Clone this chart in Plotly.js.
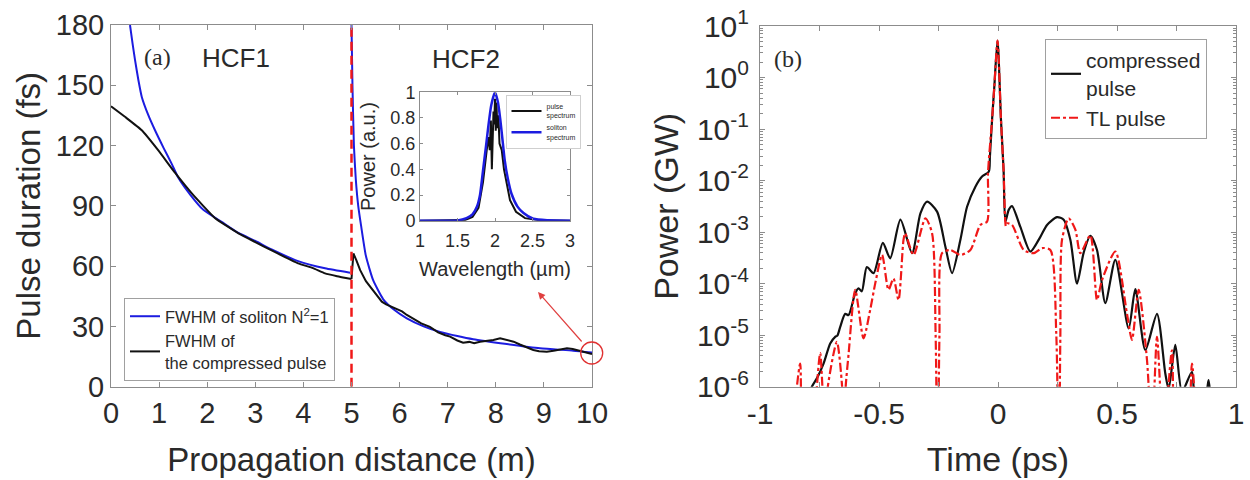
<!DOCTYPE html>
<html>
<head>
<meta charset="utf-8">
<script src="https://cdn.plot.ly/plotly-3.0.1.min.js"></script>
<style>html,body{margin:0;padding:0;background:#fff;}#chart{width:1250px;height:480px;}</style>
</head>
<body>
<div id="chart"></div>
<script>
// ---------- Panel (a): pulse duration vs propagation distance ----------
const zSol1 = [0.395, 0.45, 0.5, 0.57, 0.64, 0.776, 0.915, 1.1, 1.26, 1.4, 1.65, 1.92, 2.3, 2.65, 3.0, 3.34, 3.89, 4.45, 4.97];
const fwhmSol1 = [180, 170.5, 162.5, 152.5, 144.2, 135.1, 127.6, 118.5, 111, 104, 95.5, 88, 82, 76.5, 72.5, 68.3, 62.5, 58.9, 56.7];
const zSol2 = [5.0, 5.02, 5.05, 5.09, 5.14, 5.2, 5.3, 5.45, 5.66, 5.9, 6.15, 6.5, 6.84, 7.2, 7.53, 8.23, 8.92, 9.61, 10.0];
const fwhmSol2 = [180, 150, 120, 103, 90, 80, 65, 53, 43.5, 38, 34, 30, 27.3, 25.2, 23.6, 21.2, 19.1, 17.9, 17.0];
const zCmp1 = [0, 0.29, 0.64, 0.98, 1.33, 1.68, 2.16, 2.65, 3.0, 3.34, 3.89, 4.2, 4.45, 4.7, 5.0];
const fwhmCmp1 = [139.6, 134.3, 127.6, 117.7, 106.5, 96.2, 84, 76.3, 72, 67.8, 61.4, 59, 56.4, 55, 53.6];
const zCmp2 = [5.0, 5.04, 5.1, 5.18, 5.3, 5.45, 5.55, 5.63, 5.72, 5.8, 5.95, 6.05, 6.15, 6.3, 6.45, 6.63, 6.8, 6.95, 7.05, 7.2, 7.32, 7.45, 7.55, 7.67, 7.8, 7.95, 8.09, 8.2, 8.37, 8.5, 8.65, 8.78, 8.9, 9.06, 9.2, 9.35, 9.48, 9.6, 9.75, 9.85, 10.0];
const fwhmCmp2 = [53.6, 66.3, 63, 58, 52.5, 48, 44.5, 42.3, 41.0, 40.1, 38.5, 37.5, 35.7, 33.5, 31.5, 29.8, 27, 25.6, 24.9, 23, 21.9, 22.3, 21.6, 22.4, 22.7, 23.2, 24.1, 23.5, 22.4, 21, 19.5, 18.3, 17.6, 17.4, 17.9, 18.6, 19.1, 18.8, 17.9, 17.5, 16.3];
const fiberBoundary = [5, 5];
const boundaryRange = [0, 180];

// ---------- Inset: spectra ----------
const lamSol = [1.0, 1.5, 1.62, 1.7, 1.76, 1.8, 1.84, 1.88, 1.91, 1.95, 2.0, 2.04, 2.07, 2.1, 2.13, 2.17, 2.22, 2.3, 2.38, 2.51, 2.7, 3.0];
const specSol = [0, 0.002, 0.02, 0.05, 0.11, 0.2, 0.39, 0.58, 0.73, 0.9, 1.0, 0.92, 0.79, 0.63, 0.47, 0.33, 0.21, 0.11, 0.06, 0.015, 0.003, 0];
const lamPulse = [1.0, 1.6, 1.7, 1.78, 1.84, 1.88, 1.91, 1.93, 1.945, 1.958, 1.97, 1.98, 1.99, 2.0, 2.01, 2.02, 2.03, 2.045, 2.06, 2.09, 2.12, 2.16, 2.2, 2.28, 2.4, 2.6, 3.0];
const specPulse = [0, 0.005, 0.03, 0.1, 0.3, 0.5, 0.65, 0.55, 0.78, 0.4, 0.7, 0.85, 0.75, 0.95, 0.7, 0.92, 0.72, 0.82, 0.6, 0.55, 0.4, 0.27, 0.16, 0.07, 0.02, 0.003, 0];

// ---------- Panel (b): temporal power ----------
const tCmp = [-0.80, -0.782, -0.761, -0.733, -0.705, -0.684, -0.675, -0.663, -0.642, -0.628, -0.6, -0.586, -0.572, -0.551, -0.523, -0.484, -0.453, -0.41, -0.361, -0.326, -0.298, -0.256, -0.221, -0.193, -0.158, -0.13, -0.095, -0.067, -0.039, -0.034, -0.025, -0.0155, -0.002, 0.0125, 0.0235, 0.031, 0.045, 0.059, 0.094, 0.136, 0.178, 0.206, 0.248, 0.276, 0.304, 0.332, 0.36, 0.388, 0.416, 0.451, 0.493, 0.549, 0.577, 0.619, 0.668, 0.703, 0.717, 0.745, 0.773, 0.815, 0.83, 0.875, 0.885, 0.895];
const pCmp = [5e-7, 1.0e-6, 1.45e-6, 2.8e-6, 6.9e-6, 9.3e-6, 9.8e-6, 1.45e-5, 2.6e-5, 2.45e-5, 6.5e-5, 8.1e-5, 7.1e-5, 2.1e-4, 1.6e-4, 6.2e-4, 3.1e-4, 1.74e-3, 3.9e-4, 2.3e-3, 3.9e-3, 2.5e-3, 5.2e-4, 1.6e-4, 7.1e-4, 3.1e-3, 7.6e-3, 1.2e-2, 1.48e-2, 2.9e-2, 0.15, 0.66, 5.2, 0.15, 1.6e-2, 1.6e-3, 2.7e-3, 3.2e-3, 1.26e-3, 4.2e-4, 8.1e-4, 1.38e-3, 1.95e-3, 1.74e-3, 7.1e-4, 1.0e-4, 4.0e-4, 8.5e-4, 4.5e-4, 4.2e-5, 2.9e-4, 1.35e-5, 7.8e-5, 5.1e-6, 2.6e-5, 1.8e-6, 9e-7, 6.5e-6, 8e-7, 1.95e-6, 5e-7, 8e-7, 1.35e-6, 5e-7];
const tTL = [-0.86, -0.845, -0.831, -0.812, -0.77, -0.761, -0.747, -0.726, -0.715, -0.677, -0.655, -0.649, -0.64, -0.628, -0.6, -0.565, -0.537, -0.516, -0.487, -0.46, -0.439, -0.418, -0.397, -0.39, -0.355, -0.305, -0.277, -0.262, -0.254, -0.246, -0.235, -0.2, -0.158, -0.116, -0.074, -0.046, -0.042, -0.025, -0.0155, -0.002, 0.0125, 0.0235, 0.033, 0.038, 0.059, 0.108, 0.15, 0.185, 0.22, 0.245, 0.255, 0.262, 0.269, 0.297, 0.325, 0.346, 0.388, 0.416, 0.437, 0.493, 0.542, 0.563, 0.591, 0.626, 0.647, 0.668, 0.696, 0.731, 0.752, 0.79, 0.815, 0.835];
const pTL = [1e-7, 1e-6, 2.8e-6, 1e-7, 1e-7, 1e-6, 4.5e-6, 1e-7, 1e-6, 7.4e-6, 1e-6, 1e-7, 1e-6, 4.2e-6, 7.6e-5, 8.7e-6, 3.1e-5, 1.0e-4, 3.6e-4, 7.6e-5, 1.26e-4, 4.8e-5, 7.1e-4, 9.5e-4, 3.6e-4, 1.86e-3, 9.5e-4, 1e-5, 1e-8, 1e-5, 3.9e-4, 4.5e-4, 3.6e-4, 4.5e-4, 1.38e-3, 1.6e-3, 1.4e-2, 0.15, 0.66, 5.2, 0.15, 1.6e-2, 1.3e-3, 1.48e-3, 1.38e-3, 4.5e-4, 3.9e-4, 4.9e-4, 4.5e-4, 1e-5, 1e-8, 1e-5, 7.1e-4, 1.86e-3, 1.12e-3, 3.9e-4, 8.7e-4, 4.8e-5, 1.17e-4, 4.2e-4, 2.6e-5, 8.1e-6, 7.6e-5, 3.3e-6, 1e-7, 9.3e-6, 1e-7, 5.1e-6, 1e-7, 1e-7, 2.8e-6, 1e-7];

// tick labels
const xTickVals_b = [-1, -0.75, -0.5, -0.25, 0, 0.25, 0.5, 0.75, 1];
const xTickText_b = ['-1', '', '-0.5', '', '0', '', '0.5', '', '1'];
const yTickVals_b = [1e-6, 1e-5, 1e-4, 1e-3, 1e-2, 1e-1, 1, 10];
const yTickText_b = ['10<sup>-6</sup>', '10<sup>-5</sup>', '10<sup>-4</sup>', '10<sup>-3</sup>', '10<sup>-2</sup>', '10<sup>-1</sup>', '10<sup>0</sup>', '10<sup>1</sup>'];

const BLUE = '#1c1ce0', BLACK = '#111111', RED = '#f01818', AX = '#8c8c8c', TXT = '#2a2a2a';
const FONT = 'Liberation Sans, Arial, sans-serif';
const SERIF = 'Liberation Serif, Times New Roman, serif';
const W = 1250, H = 480;
const px = v => v / W, py = v => 1 - v / H;

// minor log ticks (styling only)
const minorLog = [];
for (let e = -6; e < 1; e++) for (let m = 2; m <= 9; m++) minorLog.push(m * Math.pow(10, e));

const traces = [
  {x: zSol1, y: fwhmSol1, xaxis: 'x', yaxis: 'y', mode: 'lines', line: {color: BLUE, width: 2, shape: 'spline', smoothing: 0.5},
   name: 'FWHM of soliton N<sup>2</sup>=1', legendgroup: 'sol', legend: 'legend'},
  {x: zSol2, y: fwhmSol2, xaxis: 'x', yaxis: 'y', mode: 'lines', line: {color: BLUE, width: 2, shape: 'spline', smoothing: 0.5},
   showlegend: false, legendgroup: 'sol'},
  {x: zCmp1, y: fwhmCmp1, xaxis: 'x', yaxis: 'y', mode: 'lines', line: {color: BLACK, width: 2, shape: 'spline', smoothing: 0.4},
   name: 'FWHM of<br>the compressed pulse', legendgroup: 'cmp', legend: 'legend'},
  {x: zCmp2, y: fwhmCmp2, xaxis: 'x', yaxis: 'y', mode: 'lines', line: {color: BLACK, width: 2},
   showlegend: false, legendgroup: 'cmp'},
  {x: fiberBoundary, y: boundaryRange, xaxis: 'x', yaxis: 'y', mode: 'lines',
   line: {color: RED, width: 2.5, dash: '9px,5px'}, showlegend: false},
  // inset
  {x: lamPulse, y: specPulse, xaxis: 'x2', yaxis: 'y2', mode: 'lines', line: {color: BLACK, width: 2},
   name: 'pulse<br>spectrum', legend: 'legend2'},
  {x: lamSol, y: specSol, xaxis: 'x2', yaxis: 'y2', mode: 'lines', line: {color: BLUE, width: 2.5, shape: 'spline', smoothing: 0.6},
   name: 'soliton<br>spectrum', legend: 'legend2'},
  // panel b
  {x: tCmp, y: pCmp, xaxis: 'x3', yaxis: 'y3', mode: 'lines', line: {color: BLACK, width: 2.2, shape: 'spline', smoothing: 0.7},
   name: 'compressed<br>pulse', legend: 'legend3'},
  {x: tTL, y: pTL, xaxis: 'x3', yaxis: 'y3', mode: 'lines', line: {color: RED, width: 2.2, dash: 'dashdot', shape: 'spline', smoothing: 0.7},
   name: 'TL pulse', legend: 'legend3'}
];

const axBase = {showline: true, mirror: 'ticks', linecolor: AX, linewidth: 1, ticks: 'inside', tickcolor: AX,
  ticklen: 5, showgrid: false, zeroline: false, tickfont: {family: FONT, color: TXT}};

const legBase = {bgcolor: '#ffffff', bordercolor: '#a0a0a0', borderwidth: 1, xanchor: 'left', yanchor: 'top',
  font: {family: FONT, color: TXT}, tracegroupgap: 0};

const txt = (x, y, text, family, size) => ({xref: 'paper', yref: 'paper', x: px(x), y: py(y), text: text,
  showarrow: false, xanchor: 'center', yanchor: 'middle', font: {family: family, size: size, color: TXT}});

const layout = {
  width: W, height: H, margin: {l: 0, r: 0, t: 0, b: 0}, paper_bgcolor: '#fff', plot_bgcolor: '#fff',
  font: {family: FONT, color: TXT},
  xaxis: Object.assign({}, axBase, {domain: [px(111), px(592)], range: [0, 10], dtick: 1, anchor: 'y',
    tickfont: {family: FONT, color: TXT, size: 29},
    title: {text: 'Propagation distance (m)', font: {family: FONT, size: 33, color: TXT}, standoff: 20}}),
  yaxis: Object.assign({}, axBase, {domain: [py(386.7), py(25)], range: [0, 180], dtick: 30, anchor: 'x',
    tickfont: {family: FONT, color: TXT, size: 29},
    title: {text: 'Pulse duration (fs)', font: {family: FONT, size: 33, color: TXT}, standoff: 5}}),
  xaxis2: Object.assign({}, axBase, {domain: [px(420), px(570)], range: [1, 3], dtick: 0.5, anchor: 'y2',
    ticklen: 3, ticklabelstandoff: 4, tickfont: {family: FONT, color: TXT, size: 18},
    title: {text: 'Wavelength (\u00b5m)', font: {family: FONT, size: 20, color: TXT}, standoff: 11}}),
  yaxis2: Object.assign({}, axBase, {domain: [py(220.7), py(92.3)], range: [0, 1], dtick: 0.2, anchor: 'x2',
    ticklen: 3, tickfont: {family: FONT, color: TXT, size: 18},
    title: {text: 'Power (a.u.)', font: {family: FONT, size: 20, color: TXT}, standoff: 9}}),
  xaxis3: Object.assign({}, axBase, {domain: [px(760), px(1236)], range: [-1, 1], anchor: 'y3',
    tickmode: 'array', tickvals: xTickVals_b, ticktext: xTickText_b,
    tickfont: {family: FONT, color: TXT, size: 30},
    title: {text: 'Time (ps)', font: {family: FONT, size: 34, color: TXT}, standoff: 18}}),
  yaxis3: Object.assign({}, axBase, {domain: [py(386.7), py(26)], type: 'log', range: [-6, 1], anchor: 'x3',
    tickmode: 'array', tickvals: yTickVals_b, ticktext: yTickText_b, ticklabelstandoff: 4,
    tickfont: {family: FONT, color: TXT, size: 30},
    minor: {tickmode: 'array', tickvals: minorLog, ticks: 'inside', ticklen: 3, tickcolor: AX},
    title: {text: 'Power (GW)', font: {family: FONT, size: 34, color: TXT}, standoff: 8}}),
  legend: Object.assign({}, legBase, {x: px(124), y: py(298), font: {family: FONT, color: TXT, size: 16.5}}),
  legend2: Object.assign({}, legBase, {x: px(506), y: py(95), font: {family: FONT, color: TXT, size: 7}, borderwidth: 0.5}),
  legend3: Object.assign({}, legBase, {x: px(1045), y: py(39), font: {family: FONT, color: TXT, size: 21}}),
  shapes: [
    {type: 'circle', xref: 'paper', yref: 'paper', x0: px(580.7), x1: px(602.7), y0: py(364), y1: py(342),
     line: {color: '#e03030', width: 1.3}}
  ],
  annotations: [
    {xref: 'paper', yref: 'paper', x: px(538), y: py(292), ax: 45, ay: 51, axref: 'pixel', ayref: 'pixel',
     showarrow: true, arrowhead: 2, arrowsize: 1.2, arrowwidth: 1.2, arrowcolor: '#e04040', text: ''},
    txt(157, 57, '(a)', SERIF, 24),
    txt(236, 58, 'HCF1', FONT, 26),
    txt(466, 59, 'HCF2', FONT, 26),
    txt(788, 59, '(b)', SERIF, 24)
  ],
  showlegend: true
};

Plotly.newPlot('chart', traces, layout, {staticPlot: true, displayModeBar: false});
</script>
</body>
</html>
